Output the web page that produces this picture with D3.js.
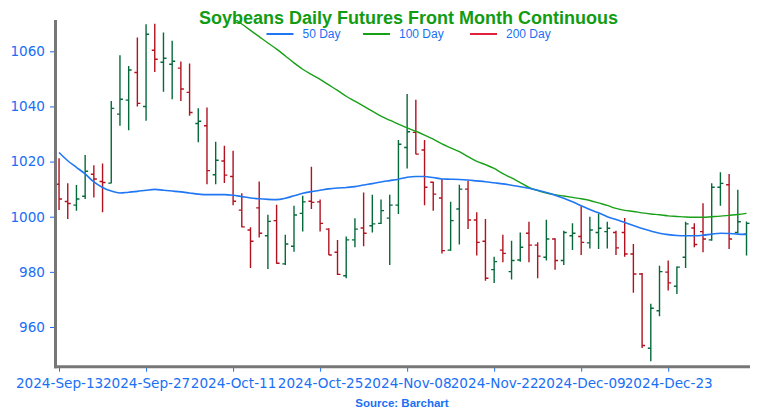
<!DOCTYPE html>
<html><head><meta charset="utf-8">
<script src="https://cdn.jsdelivr.net/npm/d3@7"></script>
<style>body{margin:0;background:#fff}svg{display:block}</style>
</head><body><svg id="c" width="759" height="420"></svg>
<script>
const dates = ["2024-09-13","2024-09-16","2024-09-17","2024-09-18","2024-09-19","2024-09-20","2024-09-23","2024-09-24","2024-09-25","2024-09-26",
"2024-09-27","2024-09-30","2024-10-01","2024-10-02","2024-10-03","2024-10-04","2024-10-07","2024-10-08","2024-10-09","2024-10-10",
"2024-10-11","2024-10-14","2024-10-15","2024-10-16","2024-10-17","2024-10-18","2024-10-21","2024-10-22","2024-10-23","2024-10-24",
"2024-10-25","2024-10-28","2024-10-29","2024-10-30","2024-10-31","2024-11-01","2024-11-04","2024-11-05","2024-11-06","2024-11-07",
"2024-11-08","2024-11-11","2024-11-12","2024-11-13","2024-11-14","2024-11-15","2024-11-18","2024-11-19","2024-11-20","2024-11-21",
"2024-11-22","2024-11-25","2024-11-26","2024-11-27","2024-11-29","2024-12-02","2024-12-03","2024-12-04","2024-12-05","2024-12-06",
"2024-12-09","2024-12-10","2024-12-11","2024-12-12","2024-12-13","2024-12-16","2024-12-17","2024-12-18","2024-12-19","2024-12-20",
"2024-12-23","2024-12-24","2024-12-26","2024-12-27","2024-12-30","2024-12-31","2025-01-02","2025-01-03","2025-01-06","2025-01-07"];
const open = [1011.8,1005.5,1004.2,1007.4,1015.4,1012.8,1012.2,1037.2,1042.3,1052.3,
1040.0,1060.4,1056.0,1055.3,1053.9,1045.1,1033.8,1033.0,1015.2,1020.2,
1014.6,1002.4,995.2,1003.2,993.1,998.6,982.9,989.3,1001.2,1005.6,
1005.4,995.5,987.1,978.6,991.6,995.9,996.7,997.6,999.5,1004.2,
1025.1,1030.6,1024.2,1012.5,1006.8,987.9,1002.8,1010.0,998.8,991.1,
980.8,987.9,980.1,984.3,994.0,989.7,985.3,991.9,984.1,993.1,
992.8,990.5,994.3,994.6,994.3,994.3,986.5,979.2,952.3,965.9,
979.9,974.8,985.3,995.9,994.6,991.6,1010.7,1011.6,994.3,993.7];
const high = [1021.2,1012.1,1011.5,1022.4,1018.7,1019.3,1042.0,1058.6,1054.7,1065.0,
1069.8,1070.0,1066.8,1063.8,1056.3,1055.6,1039.3,1039.6,1027.2,1025.7,
1023.9,1008.5,996.2,1012.8,1000.7,1004.3,993.5,1004.0,1007.6,1018.1,
1006.2,995.8,991.6,992.8,999.4,1008.8,1008.0,1006.2,1008.0,1027.8,
1044.5,1042.4,1027.8,1012.7,1013.7,1005.4,1011.6,1013.0,1001.6,999.2,
985.5,993.5,991.3,994.3,998.2,990.7,998.9,992.2,994.9,997.6,
1003.8,1000.0,1001.2,998.2,994.9,999.5,990.1,979.6,968.4,982.2,
984.1,981.9,998.2,997.6,1004.9,1012.1,1016.1,1015.5,1009.8,998.3];
const low = [1002.4,999.2,1002.2,1006.4,1007.0,1001.6,1012.1,1033.0,1031.4,1040.0,
1034.8,1052.5,1045.3,1042.6,1042.0,1036.6,1027.0,1011.8,1011.8,1012.2,
1004.2,996.2,981.4,992.5,981.0,982.9,982.5,987.3,994.6,1002.8,
994.6,986.1,978.9,977.7,988.9,989.3,994.3,997.4,982.5,1001.0,
1017.5,1022.7,1004.2,1002.2,986.7,987.7,989.9,995.5,985.9,976.8,
976.0,983.5,977.2,983.7,983.5,977.7,984.1,980.8,982.5,987.9,
986.1,988.5,988.3,988.5,986.1,985.5,972.4,952.4,947.6,963.9,
973.2,972.0,981.4,988.9,987.1,991.3,1004.0,988.3,994.0,985.9];
const close = [1006.4,1004.8,1006.4,1016.5,1013.7,1012.4,1039.3,1042.6,1053.2,1041.1,
1066.2,1057.1,1057.5,1056.4,1046.3,1037.8,1034.6,1016.7,1020.5,1015.1,
1005.6,996.3,991.1,994.0,998.3,983.1,990.1,1000.6,1005.4,1005.2,
997.6,986.1,979.1,991.6,995.5,994.0,997.4,1002.2,1004.2,1026.3,
1030.8,1022.7,1010.7,1008.2,987.7,998.6,1010.0,998.8,990.7,977.7,
983.7,986.7,984.1,988.9,989.7,985.7,991.9,984.1,994.3,994.0,
990.7,995.2,995.8,995.8,988.7,986.5,979.2,953.3,966.8,980.1,
976.0,981.7,997.4,989.9,991.9,1010.7,1012.1,991.9,998.2,997.6];
const ma50 = [1023.3,1020.3,1017.9,1015.5,1012.6,1010.6,1009.3,1008.6,1008.9,1009.2,
1009.6,1009.9,1009.6,1009.3,1009.0,1008.6,1008.2,1008.0,1008.0,1008.0,
1007.8,1007.3,1006.8,1006.5,1006.3,1006.2,1006.7,1007.6,1008.5,1009.1,
1009.6,1010.1,1010.4,1010.6,1010.9,1011.5,1012.0,1012.6,1013.1,1013.6,
1014.3,1014.6,1014.6,1014.2,1013.7,1013.6,1013.5,1013.3,1013.0,1012.7,
1012.3,1011.9,1011.4,1010.9,1010.3,1009.6,1008.8,1007.8,1006.7,1005.4,
1004.0,1002.6,1001.4,1000.0,999.0,997.9,996.8,995.7,994.8,994.0,
993.5,993.2,993.1,993.1,993.3,993.7,994.0,993.9,993.7,993.6];
const ma100 = [null,null,null,null,null,null,null,null,null,null,
null,null,null,null,null,null,null,null,null,1074.5,
1072.2,1069.9,1067.6,1065.3,1063.0,1060.8,1058.3,1055.8,1053.5,1051.6,
1049.8,1047.8,1045.8,1043.7,1041.9,1040.1,1038.3,1036.5,1035.0,1033.6,
1032.2,1031.0,1029.6,1028.1,1026.4,1025.0,1023.6,1021.8,1020.1,1018.9,
1017.5,1015.6,1014.1,1012.4,1010.6,1009.5,1008.6,1008.0,1007.5,1007.0,
1006.5,1005.9,1005.0,1004.1,1003.0,1002.3,1001.9,1001.4,1001.0,1000.7,
1000.3,1000.1,999.9,999.8,999.8,1000.0,1000.2,1000.5,1000.8,1001.2];
const ma200 = [];
const yTicks = [960,980,1000,1020,1040,1060];
const xTickIdx = [0,10,20,30,40,50,60,70];
const legendItems = ["50 Day","100 Day","200 Day"];

(function(){
const svg = d3.select("#c");
const L = 56, R = 750, T = 20, B = 366.7;
const FONT = "'Liberation Sans', Arial, sans-serif";
const TICKFONT = "'DejaVu Sans', sans-serif";
const axisText = "#1a6ff5";
const colUp = "#06693a", colDn = "#b0121f";
const lineCols = ["#1f77f4", "#19a019", "#e3203b"];

const x = d3.scaleLinear().domain([-0.35, 79.4]).range([L, R]);
const y = d3.scaleLinear().domain([945.6, 1071.35]).range([B, T]);
const parse = d3.timeParse("%Y-%m-%d"), fmt = d3.timeFormat("%Y-%b-%d");

svg.append("defs").append("clipPath").attr("id","clip").append("rect")
  .attr("x", L).attr("y", T).attr("width", R-L).attr("height", B-T);

const g = svg.append("g").attr("clip-path","url(#clip)");
const idx = d3.range(dates.length);
const bars = g.selectAll("g.bar").data(idx).join("g")
  .attr("stroke", i => close[i] >= open[i] ? colUp : colDn)
  .attr("stroke-width", 1.4);
bars.append("line").attr("x1", i => x(i)).attr("x2", i => x(i))
  .attr("y1", i => y(high[i])).attr("y2", i => y(low[i]));
bars.append("line").attr("x1", i => x(i)-3).attr("x2", i => x(i))
  .attr("y1", i => y(open[i])).attr("y2", i => y(open[i]));
bars.append("line").attr("x1", i => x(i)).attr("x2", i => x(i)+3)
  .attr("y1", i => y(close[i])).attr("y2", i => y(close[i]));

const mk = arr => d3.line().defined(i => arr[i] != null).x(i => x(i)).y(i => y(arr[i])).curve(d3.curveMonotoneX);
g.append("path").attr("d", mk(ma100)(idx)).attr("fill","none").attr("stroke", lineCols[1]).attr("stroke-width", 1.4);
g.append("path").attr("d", mk(ma50)(idx)).attr("fill","none").attr("stroke", lineCols[0]).attr("stroke-width", 1.6);
if (ma200.length) g.append("path").attr("d", mk(ma200)(idx)).attr("fill","none").attr("stroke", lineCols[2]).attr("stroke-width", 1.4);

const yAx = svg.append("g").attr("transform", `translate(${L},0)`)
  .call(d3.axisLeft(y).tickValues(yTicks).tickSize(6).tickPadding(5).tickFormat(d3.format("d")));
const xAx = svg.append("g").attr("transform", `translate(0,${B})`)
  .call(d3.axisBottom(x).tickValues(xTickIdx).tickSize(5).tickPadding(6.5).tickFormat(i => fmt(parse(dates[i]))));
[yAx, xAx].forEach(a => {
  a.select(".domain").remove();
  a.selectAll(".tick line").attr("stroke", axisText).attr("stroke-width", 1);
  a.selectAll(".tick text").attr("fill", axisText).attr("font-family", TICKFONT).attr("font-size", "13.6px");
});
svg.append("line").attr("x1", L-0.5).attr("x2", L-0.5).attr("y1", T).attr("y2", B+1.5)
  .attr("stroke", "#777").attr("stroke-width", 3);
svg.append("line").attr("x1", L-2).attr("x2", R).attr("y1", B).attr("y2", B)
  .attr("stroke", "#777").attr("stroke-width", 3);

svg.append("text").attr("x", 408.5).attr("y", 24.2).attr("text-anchor","middle")
  .attr("font-family", FONT).attr("font-weight","bold").attr("font-size","18px")
  .attr("fill","#129c12").text("Soybeans Daily Futures Front Month Continuous");

const legX = [266.5, 363, 470];
legendItems.forEach((t, k) => {
  svg.append("line").attr("x1", legX[k]).attr("x2", legX[k]+27).attr("y1", 34).attr("y2", 34)
    .attr("stroke", lineCols[k]).attr("stroke-width", 2);
  svg.append("text").attr("x", legX[k]+36).attr("y", 38.3)
    .attr("font-family", FONT).attr("font-size","12px").attr("fill", axisText).text(t);
});

svg.append("text").attr("x", 402).attr("y", 407).attr("text-anchor","middle")
  .attr("font-family", FONT).attr("font-weight","bold").attr("font-size","11.5px")
  .attr("fill", axisText).text("Source: Barchart");
})();
</script></body></html>
